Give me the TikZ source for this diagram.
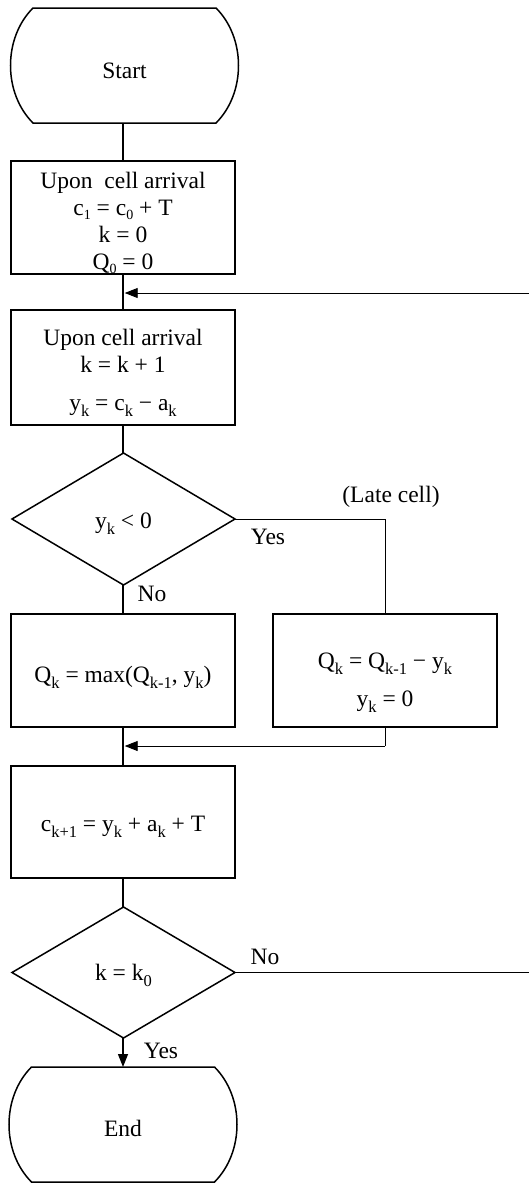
\documentclass[tikz,border=0pt]{standalone}
\usepackage{fontspec}
\setmainfont{Liberation Serif}
\usetikzlibrary{arrows.meta,calc}
\newcommand\sbk[1]{\raisebox{-6pt}{\fontsize{16.5}{16.5}\selectfont #1}}
\newcommand\sbd[1]{\raisebox{-4pt}{\fontsize{14}{14}\selectfont #1}}
\newcommand\atbase[2]{\raisebox{#1}[0pt][0pt]{#2}}
\newcommand\lines[2]{\raisebox{#1}[0pt][0pt]{\begin{tabular}[t]{@{}c@{}}#2\end{tabular}}}
\begin{document}
\begin{tikzpicture}[x=1pt,y=-1pt,
  every node/.style={font=\fontsize{23.5}{27}\selectfont, inner sep=0pt, outer sep=0pt},
  boxnode/.style={draw, line width=1.5pt, rectangle, minimum width=224pt, align=center},
  termnode/.style={minimum width=227pt, minimum height=115pt},
  dianode/.style={minimum width=223pt},
  shapeline/.style={line width=1.5pt, line join=miter},
  thickline/.style={line width=1.4pt},
  thinline/.style={line width=0.9pt},
  tip/.style={-{Triangle[length=13pt,width=10pt]}},
  lbl/.style={anchor=center}]
\useasboundingbox (0,0) rectangle (529,1183);

% Start terminal
\node[termnode] (start) at (124.5,65.5) {\atbase{-12.5pt}{Start}};
\draw[shapeline] ($(start.north west)+(22,0)$) -- ($(start.north east)+(-22,0)$)
  .. controls ($(start.north east)+(8,30)$) and ($(start.south east)+(8,-30)$) .. ($(start.south east)+(-22,0)$)
  -- ($(start.south west)+(22,0)$)
  .. controls ($(start.south west)+(-8,-30)$) and ($(start.north west)+(-8,30)$) .. cycle;

% Box 1
\node[boxnode, minimum height=113pt] (b1) at (123,217.5) {\lines{29.5pt}{Upon~ cell arrival\\c\sbd{1} = c\sbd{0} + T\\k = 0\\Q\sbd{0} = 0}};

% Box 2
\node[boxnode, minimum height=115pt] (b2) at (123,367.5) {\lines{22.5pt}{Upon cell arrival\\k = k + 1\\[11pt]y\sbk{k} = c\sbk{k} − a\sbk{k}}};

% Diamond 1
\node[dianode, minimum height=132pt] (d1) at (123.5,519) {\atbase{-9pt}{y\sbk{k} < 0}};
\draw[shapeline] (d1.north) -- (d1.east) -- (d1.south) -- (d1.west) -- cycle;

% Box 3 left / right
\node[boxnode, minimum height=113pt] (bl) at (123,670.5) {\atbase{-12pt}{Q\sbk{k} = max(Q\sbk{k-1}, y\sbk{k})}};
\node[boxnode, minimum height=113pt] (br) at (385,670.5) {\lines{2.5pt}{Q\sbk{k} = Q\sbk{k-1} − y\sbk{k}\\[11pt]y\sbk{k} = 0}};

% Box 4
\node[boxnode, minimum height=112pt] (b4) at (123,822) {\atbase{-9.5pt}{c\sbk{k+1} = y\sbk{k} + a\sbk{k} + T}};

% Diamond 2
\node[dianode, minimum height=131pt] (d2) at (123.5,972.5) {\atbase{-7.5pt}{k = k\sbk{0}}};
\draw[shapeline] (d2.north) -- (d2.east) -- (d2.south) -- (d2.west) -- cycle;

% End terminal
\node[termnode] (endt) at (123,1124.5) {\atbase{-11.5pt}{End}};
\draw[shapeline] ($(endt.north west)+(22,0)$) -- ($(endt.north east)+(-22,0)$)
  .. controls ($(endt.north east)+(8,30)$) and ($(endt.south east)+(8,-30)$) .. ($(endt.south east)+(-22,0)$)
  -- ($(endt.south west)+(22,0)$)
  .. controls ($(endt.south west)+(-8,-30)$) and ($(endt.north west)+(-8,30)$) .. cycle;

% coordinates
\coordinate (loopin) at (529,293);
\coordinate (merge1) at (124,293);
\coordinate (lateturn) at (385,519);
\coordinate (brdown) at (385,746);
\coordinate (merge2) at (124,746);
\coordinate (loopout) at (529,972.5);

% connectors
\draw[thickline] (start.south -| b1.north) -- (b1.north);
\draw[thickline] (b1.south) -- (b2.north);
\draw[thinline, tip] (loopin) -- ($(merge1)+(0.7,0)$);
\draw[thickline] (b2.south) -- (d1.north -| b2.south);
\draw[thinline] (d1.east) -- (lateturn) -- (br.north);
\draw[thickline] (d1.south -| bl.north) -- (bl.north);
\draw[thickline] (bl.south) -- (b4.north);
\draw[thinline] (br.south) -- (brdown);
\draw[thinline, tip] (brdown) -- ($(merge2)+(0.7,0)$);
\draw[thickline] (b4.south) -- (d2.north -| b4.south);
\draw[thinline] (d2.east) -- (loopout);
\draw[thickline, tip] (d2.south -| endt.north) -- (endt.north);

% labels
\node[lbl] (late) at (391,497) {(Late cell)};
\node[lbl] (yes1) at (268,537) {Yes};
\node[lbl] (no1) at (152,594) {No};
\node[lbl] (no2) at (265,957) {No};
\node[lbl] (yes2) at (161,1051) {Yes};
\end{tikzpicture}
\end{document}
